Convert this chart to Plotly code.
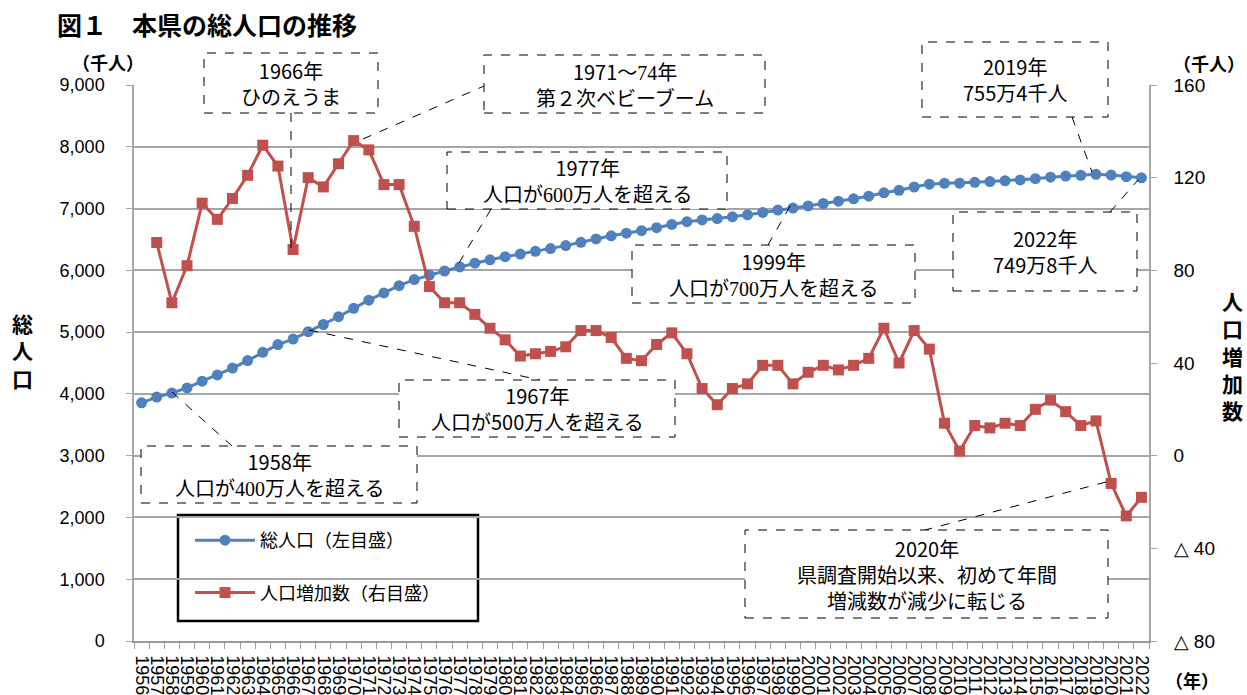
import plotly.graph_objects as go

years = list(range(1956, 2023))

total_pop = [3856, 3948, 4014, 4096, 4205, 4307, 4418, 4539, 4673, 4798,
             4887, 5007, 5123, 5249, 5385, 5517, 5634, 5751, 5850, 5923,
             5989, 6055, 6116, 6171, 6221, 6264, 6308, 6353, 6400, 6454,
             6508, 6559, 6601, 6642, 6690, 6743, 6787, 6816, 6838, 6867,
             6898, 6937, 6976, 7007, 7043, 7082, 7119, 7158, 7200, 7255,
             7295, 7349, 7395, 7409, 7411, 7424, 7436, 7450, 7463, 7483,
             7507, 7526, 7539, 7554, 7542, 7516, 7498]

pop_increase = [None, 92, 66, 82, 109, 102, 111, 121, 134, 125,
                89, 120, 116, 126, 136, 132, 117, 117, 99, 73,
                66, 66, 61, 55, 50, 43, 44, 45, 47, 54,
                54, 51, 42, 41, 48, 53, 44, 29, 22, 29,
                31, 39, 39, 31, 36, 39, 37, 39, 42, 55,
                40, 54, 46, 14, 2, 13, 12, 14, 13, 20,
                24, 19, 13, 15, -12, -26, -18]

left_ticks = [0, 1000, 2000, 3000, 4000, 5000, 6000, 7000, 8000, 9000]
right_ticks = [-80, -40, 0, 40, 80, 120, 160]
right_ticktext = ["△ 80", "△ 40", "0", "40", "80", "120", "160"]

JP = "Noto Sans CJK JP"
SERIF = "Liberation Serif"
BLUE = "#4F81BD"
RED = "#C0504D"

# plot-area pixel geometry helpers (for decorations only)
X0, X1, Y0, Y1 = 134, 1149, 85, 641
def px(x):
    return (x - X0) / (X1 - X0)
def py(y):
    return (Y1 - y) / (Y1 - Y0)

fig = go.Figure()
fig.add_trace(go.Scatter(
    x=years, y=total_pop, name="総人口（左目盛）",
    mode="lines+markers", line=dict(color=BLUE, width=3),
    marker=dict(symbol="circle", size=11, color=BLUE),
    legendgroup="a", yaxis="y"))
fig.add_trace(go.Scatter(
    x=years, y=pop_increase, name="人口増加数（右目盛）",
    mode="lines+markers", line=dict(color=RED, width=3),
    marker=dict(symbol="square", size=11, color=RED),
    legendgroup="b", yaxis="y2"))

shapes = []
annotations = []

def box(x0, y0, x1, y1, text, cx=None, cy=None, size=20):
    shapes.append(dict(type="rect", xref="paper", yref="paper",
                       x0=px(x0), x1=px(x1), y0=py(y1), y1=py(y0),
                       line=dict(color="black", width=1, dash="dash"),
                       fillcolor="white", layer="above"))
    if cx is None:
        cx = (x0 + x1) / 2
    if cy is None:
        cy = (y0 + y1) / 2
    annotations.append(dict(xref="paper", yref="paper", x=px(cx), y=py(cy),
                            text=text, showarrow=False, align="center",
                            xanchor="center", yanchor="middle",
                            font=dict(family=JP, size=size, color="black")))

def leader(xa, ya, xb, yb):
    shapes.append(dict(type="line", xref="paper", yref="paper",
                       x0=px(xa), y0=py(ya), x1=px(xb), y1=py(yb),
                       line=dict(color="black", width=1, dash="dash"),
                       layer="above"))

def num(s):
    return f"<span style='font-family:{SERIF}'>{s}</span>"

# legend frame (solid black)
shapes.append(dict(type="rect", xref="paper", yref="paper",
                   x0=px(178), x1=px(478), y0=py(621), y1=py(515),
                   line=dict(color="black", width=2.5),
                   fillcolor="white", layer="between"))

leader(291, 113, 291, 249)
box(204, 53, 378, 113, "1966年<br>ひのえうま")
leader(363, 139, 484, 86)
box(484, 55, 765, 113, "1971～" + num("74") + "年<br>第２次ベビーブーム")
leader(491, 209, 459, 263)
box(447, 152, 727, 209, "1977年<br>人口が" + num("600") + "万人を超える")
leader(790, 206, 768, 245)
box(632, 245, 915, 303, "1999年<br>人口が" + num("700") + "万人を超える")
leader(1072, 117, 1092, 172)
box(922, 42, 1108, 117, "2019年<br>755万4千人")
leader(1110, 212, 1138, 180)
box(953, 212, 1137, 291, "2022年<br>749万8千人")
leader(309, 330, 540, 380)
box(399, 380, 675, 437, "1967年<br>人口が500万人を超える")
leader(172, 392, 232, 446)
box(141, 446, 417, 503, "1958年<br>人口が" + num("400") + "万人を超える")
leader(1106, 482, 925, 530)
box(745, 530, 1108, 618, "2020年<br>県調査開始以来、初めて年間<br>増減数が減少に転じる")

# titles and unit labels
annotations.append(dict(xref="paper", yref="paper", x=px(55), y=py(24),
                        xanchor="left", yanchor="middle", showarrow=False,
                        text="<b>図１　本県の総人口の推移</b>",
                        font=dict(family=JP, size=25, color="black")))
annotations.append(dict(xref="paper", yref="paper", x=px(108), y=py(62),
                        xanchor="center", yanchor="middle", showarrow=False,
                        text="<b>（千人）</b>",
                        font=dict(family=JP, size=18, color="black")))
annotations.append(dict(xref="paper", yref="paper", x=px(1209), y=py(63),
                        xanchor="center", yanchor="middle", showarrow=False,
                        text="<b>（千人）</b>",
                        font=dict(family=JP, size=18, color="black")))
annotations.append(dict(xref="paper", yref="paper", x=px(1192), y=py(680),
                        xanchor="center", yanchor="middle", showarrow=False,
                        text="<b>（年）</b>",
                        font=dict(family=JP, size=18, color="black")))
annotations.append(dict(xref="paper", yref="paper", x=px(22), y=py(350),
                        xanchor="center", yanchor="middle", showarrow=False,
                        text="<b>総<br>人<br>口</b>",
                        font=dict(family=JP, size=21, color="black")))
annotations.append(dict(xref="paper", yref="paper", x=px(1232), y=py(355),
                        xanchor="center", yanchor="middle", showarrow=False,
                        text="<b>人<br>口<br>増<br>加<br>数</b>",
                        font=dict(family=JP, size=21, color="black")))

fig.update_layout(
    width=1247, height=695,
    margin=dict(l=X0, r=1247 - X1, t=Y0, b=695 - Y1, autoexpand=False),
    paper_bgcolor="white", plot_bgcolor="white",
    showlegend=True,
    legend=dict(x=px(190), y=py(522), xanchor="left", yanchor="top",
                bgcolor="rgba(0,0,0,0)", borderwidth=0,
                font=dict(family=JP, size=18, color="black"),
                tracegroupgap=26, itemwidth=60,
                traceorder="grouped"),
    xaxis=dict(range=[1955.5, 2022.5], tickvals=years,
               ticktext=[str(y) for y in years], tickangle=90,
               tickfont=dict(family="Liberation Sans", size=18, color="black"),
               showgrid=False, zeroline=False, showline=True,
               linecolor="#999999", linewidth=1.5, ticks="",
               ticklabelstandoff=9, automargin=False,
               minor=dict(ticks="outside", tick0=1955.5, dtick=1,
                          ticklen=6, tickcolor="#999999", tickwidth=1, showgrid=False)),
    yaxis=dict(range=[0, 9000], tickvals=left_ticks, tickformat=",",
               tickfont=dict(family="Liberation Sans", size=18, color="black"),
               showgrid=True, gridcolor="#A6A6A6", gridwidth=1.5,
               zeroline=False, showline=True, linecolor="#A6A6A6", linewidth=1.5,
               ticks="outside", ticklen=6, tickcolor="#A6A6A6", ticklabelstandoff=18,
               automargin=False),
    yaxis2=dict(range=[-80, 160], tickvals=right_ticks, ticktext=right_ticktext,
                overlaying="y", side="right",
                tickfont=dict(family="Liberation Sans", size=19, color="black"),
                showgrid=False, zeroline=False, showline=True,
                linecolor="#A6A6A6", linewidth=1.5,
                ticks="outside", ticklen=6, tickcolor="#A6A6A6", ticklabelstandoff=13,
                automargin=False),
    shapes=shapes, annotations=annotations,
)

fig.write_html("out.html", config={"displayModeBar": False},
               post_script="document.body.style.margin='0';document.body.style.padding='0';document.body.style.overflow='hidden';")
